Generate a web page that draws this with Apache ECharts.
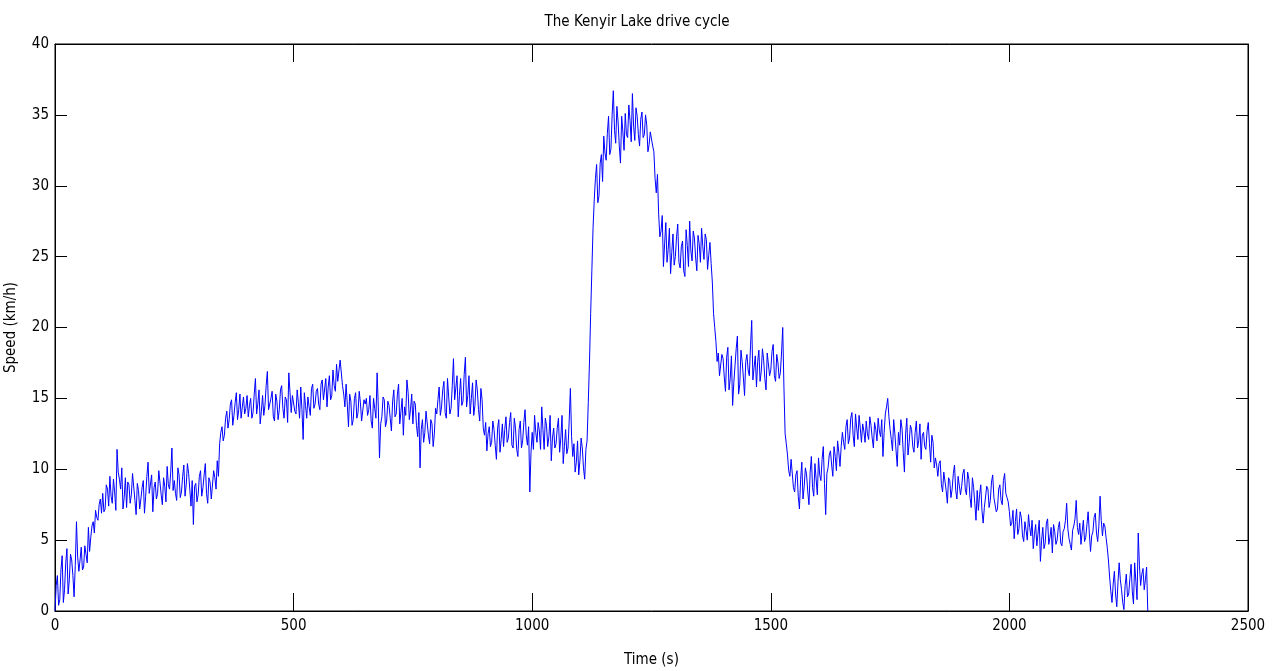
<!DOCTYPE html>
<html lang="en">
<head>
    <meta charset="UTF-8">
    <title>The Kenyir Lake drive cycle</title>
    <script src="https://cdn.jsdelivr.net/npm/echarts@6/dist/echarts.min.js"></script>
    <style>
        body,
        html {
            padding: 0;
            margin: 0;
            background: #fff;
        }
    </style>
</head>
<body>
    <div id="chart" style="width:1274px;height:671px;"></div>
    <script>
        // speed samples (km/h), one every dt seconds (t = 0, 5, 10 ...)
        var dt = 5;
        var speed = [
            0.0, 2.5, 0.8, 3.9, 1.5, 4.4, 2.2, 3.6, 1.0, 6.3,
            2.8, 4.5, 3.1, 4.0, 5.9, 5.2, 6.3, 7.1, 6.4, 7.9,
            8.3, 7.2, 8.6, 9.5, 7.6, 8.4, 11.4, 9.3, 10.1, 8.0,
            7.3, 8.9, 8.2, 9.6, 6.8, 8.5, 7.9, 9.2, 8.1, 10.5,
            8.4, 7.0, 9.1, 8.3, 9.8, 7.5, 8.8, 10.2, 8.6, 11.5,
            9.2, 7.8, 9.6, 8.4, 10.3, 8.9, 9.7, 7.4, 6.1, 9.0,
            8.2, 9.9, 8.7, 10.4, 7.6, 9.1, 8.0, 9.4, 10.6, 11.8,
            13.0, 12.4, 14.1, 13.5, 14.9, 13.8, 15.4, 14.2, 13.6, 15.1,
            14.3, 13.7, 15.0, 14.0, 16.4, 14.6, 13.2, 15.2, 14.5, 16.9,
            14.1, 15.5, 13.4, 14.8, 14.2, 15.9, 13.6, 14.9, 16.8, 14.0,
            15.3, 13.9, 14.7, 15.8, 12.1, 14.5, 15.1, 13.8, 16.0, 14.6,
            15.7, 14.2, 16.3, 15.0, 14.4, 16.6, 15.2, 15.9, 17.4, 16.1,
            17.6, 15.3, 16.0, 13.0, 14.8, 13.5, 15.4, 14.0, 14.7, 13.3,
            14.6, 13.8, 15.2, 12.9, 14.3, 16.8, 10.8, 13.7, 14.9, 13.4,
            14.5, 12.7, 15.6, 13.9, 16.0, 14.1, 12.4, 13.8, 15.4, 14.2,
            13.2, 14.6, 12.3, 10.1, 13.5, 12.6, 14.0, 11.8, 13.2, 12.5,
            13.9, 15.8, 14.4, 16.2, 13.6, 15.1, 14.3, 17.8, 15.0, 13.7,
            16.4, 14.8, 17.9, 15.2, 13.9, 16.1, 14.5, 15.6, 13.4, 14.9,
            12.4, 11.3, 13.0, 11.9, 12.8, 10.7, 13.5, 12.1, 11.6, 13.7,
            12.2, 14.0, 11.5, 12.9, 10.9, 13.4, 12.0, 14.2, 11.7, 8.4,
            12.6, 13.8, 11.9, 12.7, 14.4, 11.4, 13.1, 12.3, 10.6, 12.9,
            11.8, 13.6, 12.2, 10.4, 12.8, 11.5, 15.7, 10.9, 9.8, 12.0,
            10.6, 11.5, 9.3, 12.0, 17.5, 24.0, 29.0, 31.5, 29.3, 32.2,
            33.5, 31.8, 34.9, 32.6, 36.7, 33.0, 34.5, 31.6, 33.8, 35.1,
            33.4, 34.6, 36.5, 33.2, 34.9, 32.8, 35.2, 33.6, 34.3, 32.9,
            33.7, 32.4, 29.5, 28.0, 26.8, 24.3, 27.4, 25.5, 23.8, 26.6,
            25.0, 27.3, 24.2, 26.1, 23.6, 25.8, 27.5, 24.7, 26.3, 24.0,
            25.9, 27.0, 24.8, 26.2, 25.1, 24.5, 21.0, 19.0, 18.2, 16.5,
            17.8, 15.5, 18.6, 16.4, 14.5, 17.3, 19.4, 16.0, 17.6, 15.2,
            18.1, 16.6, 20.5, 17.2, 15.8, 18.4, 16.9, 17.7, 15.6, 18.3,
            17.0, 18.8, 16.2, 17.5, 16.8, 20.0, 12.5, 11.0, 9.5, 10.8,
            8.4, 9.9, 7.2, 10.5, 8.8, 9.6, 7.5, 10.9, 8.1, 9.3,
            10.8, 9.2, 11.6, 6.8, 10.1, 11.3, 9.5, 10.9, 12.0, 10.2,
            12.6, 11.4, 13.5, 12.2, 14.0, 11.6, 12.9, 13.8, 11.9, 12.7,
            13.4, 12.1, 13.1, 11.5, 12.8, 13.6, 12.3, 10.9, 13.9, 15.0,
            12.8, 11.3, 12.5, 10.2, 11.7, 12.9, 9.8, 13.6, 11.9, 12.8,
            11.2, 13.4, 12.0, 10.7, 12.6, 11.4, 13.3, 10.5, 11.9, 10.8,
            9.5, 10.6, 8.4, 9.9, 7.6, 9.2, 8.6, 10.3, 7.9, 9.4,
            8.8, 10.0, 8.2, 9.3, 7.3, 8.7, 6.4, 7.1, 8.9, 6.2,
            7.4, 8.6, 7.8, 9.6, 8.1, 7.2, 8.9, 7.5, 9.7, 8.0,
            7.0, 6.2, 5.1, 7.2, 5.8, 6.6, 4.9, 5.7, 6.8, 5.3,
            4.4, 6.1, 5.5, 3.5, 5.9, 4.8, 6.5, 5.2, 4.1, 5.6,
            5.0, 6.3, 4.6, 5.8, 7.6, 5.1, 4.3, 6.0, 7.8, 5.4,
            4.7, 6.4, 5.2, 7.0, 4.2, 5.6, 6.9, 4.9, 8.1, 5.3,
            6.0, 4.5, 2.4, 0.6, 2.8, 0.3, 3.4, 1.5, 0.1, 2.6,
            1.2, 3.3, 0.5, 2.1, 5.5, 1.8, 3.0, 2.2, 0.0
        ];
        // in-between samples (t = 2.5, 7.5, 12.5 ...)
        var speedMid = [
            1.8, 0.4, 2.9, 0.6, 3.4, 1.2, 4.0, 2.5, 3.2, 3.8,
            3.6, 2.9, 4.6, 3.4, 4.2, 6.0, 5.5, 6.6, 7.5, 6.9,
            7.0, 8.9, 7.4, 8.1, 9.3, 7.1, 9.8, 8.6, 7.2, 9.4,
            9.1, 7.6, 9.7, 7.8, 9.0, 7.2, 8.7, 6.9, 9.5, 8.3,
            9.6, 8.7, 7.9, 9.9, 8.2, 9.4, 7.7, 8.9, 9.8, 8.5,
            8.3, 10.1, 8.0, 9.5, 8.1, 10.4, 8.6, 9.2, 8.8, 7.7,
            9.5, 8.1, 9.6, 8.3, 9.4, 7.9, 9.9, 8.6, 9.5, 12.6,
            12.0, 13.6, 12.9, 14.6, 13.1, 14.7, 13.5, 15.3, 14.4, 13.9,
            15.2, 14.5, 13.6, 15.3, 13.9, 15.6, 14.1, 13.8, 15.9, 14.2,
            15.0, 13.7, 15.3, 13.5, 15.6, 14.3, 15.1, 13.3, 15.4, 15.2,
            14.1, 15.6, 13.6, 14.2, 15.4, 13.6, 14.4, 15.7, 14.3, 15.5,
            14.6, 16.0, 14.9, 16.4, 15.8, 14.9, 17.0, 15.5, 16.2, 17.7,
            15.9, 14.4, 14.6, 15.3, 13.1, 15.0, 13.6, 15.5, 13.4, 14.9,
            15.0, 14.2, 13.4, 15.0, 13.6, 14.4, 13.2, 15.1, 13.0, 14.8,
            13.6, 14.8, 13.7, 15.3, 13.2, 15.0, 14.4, 16.3, 13.5, 15.3,
            14.8, 13.1, 14.0, 12.8, 11.9, 14.1, 12.4, 13.5, 11.6, 14.3,
            14.9, 13.8, 15.6, 14.0, 16.4, 13.9, 15.9, 14.9, 16.6, 15.2,
            14.5, 16.7, 14.4, 16.6, 15.0, 13.8, 16.3, 14.2, 15.7, 12.9,
            13.3, 12.5, 11.6, 13.4, 11.7, 12.9, 11.2, 13.2, 12.8, 11.9,
            13.3, 11.7, 13.6, 11.4, 12.8, 11.5, 13.3, 12.4, 13.0, 11.2,
            11.4, 12.6, 13.3, 11.4, 12.8, 13.6, 11.6, 13.8, 12.2, 11.5,
            12.9, 11.2, 13.8, 11.6, 11.1, 13.4, 12.3, 11.8, 10.5, 9.6,
            12.2, 10.1, 11.4, 14.7, 21.0, 27.0, 30.5, 28.8, 31.6, 30.3,
            32.3, 33.7, 32.2, 35.0, 33.9, 35.6, 32.8, 34.9, 32.5, 33.6,
            35.7, 33.1, 34.2, 35.5, 33.6, 34.7, 33.4, 35.0, 32.4, 33.8,
            32.8, 30.5, 30.8, 26.4, 27.9, 25.9, 24.6, 27.0, 25.3, 24.4,
            26.4, 24.6, 25.7, 24.0, 26.9, 24.3, 25.4, 26.8, 24.9, 26.5,
            24.6, 25.7, 26.6, 24.1, 26.0, 23.2, 20.0, 17.6, 16.6, 18.1,
            16.5, 17.9, 15.6, 18.0, 16.1, 18.5, 15.3, 18.4, 16.5, 17.6,
            17.0, 18.7, 16.3, 18.0, 17.6, 16.2, 18.5, 16.4, 18.2, 16.6,
            18.3, 16.6, 18.1, 16.4, 18.2, 15.8, 11.8, 9.9, 10.7, 8.7,
            9.6, 8.1, 9.3, 7.9, 10.1, 8.4, 9.8, 8.7, 10.4, 8.2,
            9.6, 10.7, 9.0, 9.7, 11.0, 10.3, 11.6, 9.9, 11.2, 11.6,
            11.9, 13.0, 11.8, 13.6, 12.4, 13.9, 12.1, 12.9, 13.2, 11.9,
            12.5, 13.7, 12.2, 13.3, 12.0, 12.7, 13.5, 12.6, 14.4, 13.7,
            12.1, 13.5, 11.3, 12.6, 13.5, 11.2, 12.5, 11.0, 13.1, 11.6,
            12.6, 11.5, 13.2, 12.4, 11.6, 12.7, 11.8, 12.4, 10.1, 10.3,
            10.4, 8.9, 9.8, 8.5, 9.4, 8.0, 9.7, 8.5, 9.5, 8.2,
            9.7, 8.6, 9.8, 8.0, 9.4, 7.6, 8.5, 8.2, 7.1, 7.3,
            8.8, 7.3, 9.1, 8.0, 7.0, 8.6, 7.8, 9.2, 8.3, 7.7,
            6.0, 7.1, 6.3, 5.4, 7.0, 5.3, 6.3, 5.0, 5.9, 6.4,
            5.4, 4.6, 6.4, 5.0, 4.4, 6.2, 4.7, 5.9, 6.1, 4.7,
            5.9, 4.8, 5.6, 6.4, 5.8, 4.7, 5.7, 6.5, 5.9, 6.2,
            5.6, 4.9, 6.1, 5.5, 5.3, 6.6, 5.5, 6.0, 6.4, 6.2,
            5.2, 3.6, 1.4, 1.9, 1.2, 2.0, 2.2, 0.6, 1.8, 1.0,
            2.3, 1.4, 3.4, 0.8, 3.2, 2.6, 1.5, 3.1
        ];

        var titleText = 'The Kenyir Lake drive cycle';
        var xName = 'Time (s)';
        var yName = 'Speed (km/h)';

        // merge both sample sets in time order
        var points = [];
        speed.forEach(function (v, i) {
            points.push([i * dt, v]);
            if (i < speedMid.length) {
                points.push([i * dt + dt / 2, speedMid[i]]);
            }
        });

        var font = '"Liberation Sans Narrow", "DejaVu Sans Condensed", "Liberation Sans", sans-serif';

        var myChart = echarts.init(document.getElementById('chart'));

        function xAxisOpt(pos, showLabel) {
            return {
                type: 'value',
                position: pos,
                min: 0,
                max: 2500,
                interval: 500,
                axisLine: { show: true, onZero: false, lineStyle: { color: '#000', width: 1 } },
                axisTick: { show: true, inside: true, length: 18, lineStyle: { color: '#000' } },
                axisLabel: {
                    show: showLabel, fontFamily: font, fontSize: 15, color: '#000', margin: 8,
                    formatter: function (v) { return String(v); }
                },
                splitLine: { show: false }
            };
        }
        function yAxisOpt(pos, showLabel) {
            return {
                type: 'value',
                position: pos,
                min: 0,
                max: 40,
                interval: 5,
                axisLine: { show: true, onZero: false, lineStyle: { color: '#000', width: 1 } },
                axisTick: { show: true, inside: true, length: 12, lineStyle: { color: '#000' } },
                axisLabel: {
                    show: showLabel, fontFamily: font, fontSize: 15, color: '#000', margin: 6,
                    formatter: function (v) { return String(v); }
                },
                splitLine: { show: false }
            };
        }

        var xBottom = xAxisOpt('bottom', true);
        xBottom.name = xName;
        xBottom.nameLocation = 'middle';
        xBottom.nameGap = 42;
        xBottom.nameTextStyle = { fontFamily: font, fontSize: 15, color: '#000' };

        var yLeft = yAxisOpt('left', true);
        yLeft.name = yName;
        yLeft.nameLocation = 'middle';
        yLeft.nameGap = 36;
        yLeft.nameTextStyle = { fontFamily: font, fontSize: 15, color: '#000' };

        myChart.setOption({
            animation: false,
            backgroundColor: '#fff',
            title: {
                text: titleText,
                left: 'center',
                top: 10,
                textStyle: { fontFamily: font, fontSize: 15, fontWeight: 'normal', color: '#000' }
            },
            grid: {
                left: 55, right: 26, top: 44, bottom: 60,
                outerBoundsMode: 'none',
                containLabel: false,
                show: true,
                borderColor: '#000',
                borderWidth: 1,
                backgroundColor: '#fff'
            },
            xAxis: [xBottom, xAxisOpt('top', false)],
            yAxis: [yLeft, yAxisOpt('right', false)],
            series: [{
                type: 'line',
                data: points,
                xAxisIndex: 0,
                yAxisIndex: 0,
                showSymbol: false,
                symbol: 'none',
                sampling: null,
                lineStyle: { color: '#0000ff', width: 1 },
                silent: true
            }, {
                // empty series so the top / right box axes are drawn
                type: 'line',
                data: [],
                xAxisIndex: 1,
                yAxisIndex: 1,
                symbol: 'none',
                silent: true
            }]
        });
    </script>
</body>
</html>
